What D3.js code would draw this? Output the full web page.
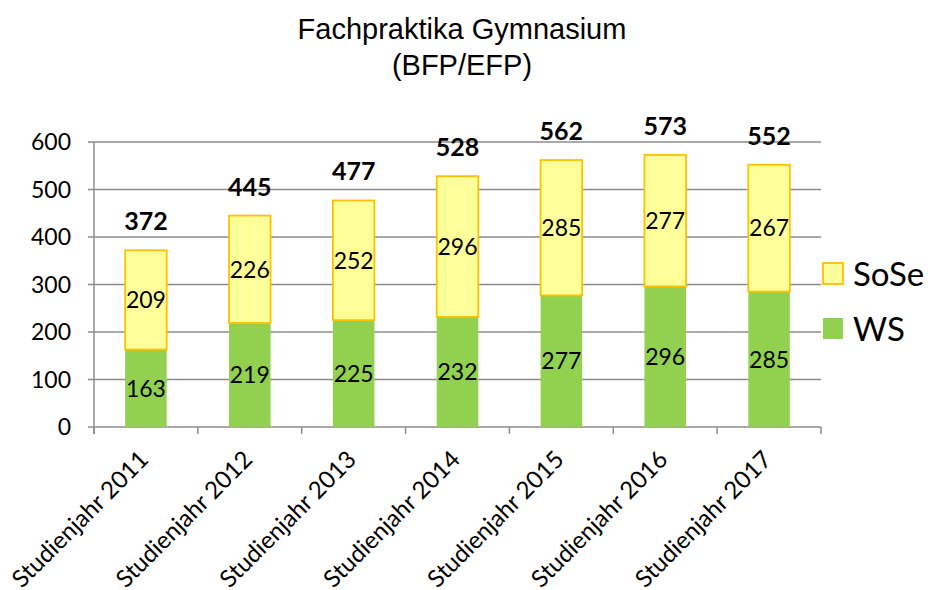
<!DOCTYPE html>
<html><head><meta charset="utf-8">
<script src="https://cdn.jsdelivr.net/npm/d3@7"></script>
<style>body{margin:0;background:#fff}</style>
</head><body>
<svg id="c" width="928" height="590"></svg>
<script>
const categories = ["Studienjahr 2011","Studienjahr 2012","Studienjahr 2013","Studienjahr 2014","Studienjahr 2015","Studienjahr 2016","Studienjahr 2017"];
const wsValues = [163,219,225,232,277,296,285];
const soseValues = [209,226,252,296,285,277,267];
const yTicks = [0,100,200,300,400,500,600];
const titleLines = ["Fachpraktika Gymnasium","(BFP/EFP)"];

const svg = d3.select("#c");
const font = "Lato, 'Open Sans', sans-serif";
const x = d3.scaleBand().domain(categories).range([94,821]).paddingInner(0.6).paddingOuter(0.3);
const y = d3.scaleLinear().domain([0,600]).range([427,142]);
const grid = "#8c8c8c";

// title
svg.append("g").selectAll("text").data(titleLines).join("text")
  .attr("x",462).attr("y",(d,i)=>39+i*36).attr("text-anchor","middle")
  .attr("font-family","'Liberation Sans', Arial, sans-serif").attr("font-size",29).attr("fill","#000").text(d=>d);

// gridlines
svg.append("g").selectAll("line").data(yTicks).join("line")
  .attr("x1",88).attr("x2",821).attr("y1",d=>y(d)).attr("y2",d=>y(d))
  .attr("stroke",grid).attr("stroke-width",1.5);
// y tick labels
svg.append("g").selectAll("text").data(yTicks).join("text")
  .attr("x",71).attr("y",d=>y(d)).attr("dy","0.36em").attr("text-anchor","end")
  .attr("font-family",font).attr("font-size",23).text(d=>d);
// y axis line
svg.append("line").attr("x1",94).attr("x2",94).attr("y1",y(600)).attr("y2",y(0)+7).attr("stroke",grid).attr("stroke-width",1.5);
// x tick marks at band boundaries
const bounds = categories.map((c,i)=>94+i*(727/7)).concat([821]);
svg.append("g").selectAll("line").data(bounds).join("line")
  .attr("x1",d=>d).attr("x2",d=>d).attr("y1",y(0)).attr("y2",y(0)+7).attr("stroke",grid).attr("stroke-width",1.5);

// stacked bars
const data = categories.map((c,i)=>({c, ws:wsValues[i], sose:soseValues[i], total:wsValues[i]+soseValues[i]}));
const g = svg.append("g");
g.selectAll("rect.ws").data(data).join("rect").attr("class","ws")
  .attr("x",d=>x(d.c)).attr("width",x.bandwidth())
  .attr("y",d=>y(d.ws)).attr("height",d=>y(0)-y(d.ws)).attr("fill","#92D050");
g.selectAll("rect.sose").data(data).join("rect").attr("class","sose")
  .attr("x",d=>x(d.c)).attr("width",x.bandwidth())
  .attr("y",d=>y(d.total)).attr("height",d=>y(d.ws)-y(d.total))
  .attr("fill","#FFFF99").attr("stroke","#FFC000").attr("stroke-width",1.8);

// inner labels
g.selectAll("text.wsl").data(data).join("text")
  .attr("x",d=>x(d.c)+x.bandwidth()/2).attr("y",d=>(y(0)+y(d.ws))/2).attr("dy","0.36em")
  .attr("text-anchor","middle").attr("font-family",font).attr("font-size",23).text(d=>d.ws);
g.selectAll("text.sl").data(data).join("text")
  .attr("x",d=>x(d.c)+x.bandwidth()/2).attr("y",d=>(y(d.ws)+y(d.total))/2).attr("dy","0.36em")
  .attr("text-anchor","middle").attr("font-family",font).attr("font-size",23).text(d=>d.sose);
// totals
g.selectAll("text.tot").data(data).join("text")
  .attr("x",d=>x(d.c)+x.bandwidth()/2).attr("y",d=>y(d.total)-20)
  .attr("text-anchor","middle").attr("font-family",font).attr("font-weight","bold").attr("font-size",25).text(d=>d.total);

// x labels
svg.append("g").selectAll("text").data(categories).join("text")
  .attr("transform",d=>`translate(${x(d)+x.bandwidth()/2+4},${y(0)+34}) rotate(-45)`)
  .attr("text-anchor","end").attr("font-family",font).attr("font-size",24).text(d=>d);

// legend
const legend = [{k:"SoSe",fill:"#FFFF99",stroke:"#FFC000",y:263},{k:"WS",fill:"#92D050",stroke:"none",y:318}];
const lg = svg.append("g").selectAll("g").data(legend).join("g").attr("transform",d=>`translate(823,${d.y})`);
lg.append("rect").attr("width",20).attr("height",21).attr("fill",d=>d.fill).attr("stroke",d=>d.stroke).attr("stroke-width",1.8);
lg.append("text").attr("x",30).attr("y",11).attr("dy","0.36em").attr("font-family",font).attr("font-size",33).text(d=>d.k);
</script>
</body></html>
